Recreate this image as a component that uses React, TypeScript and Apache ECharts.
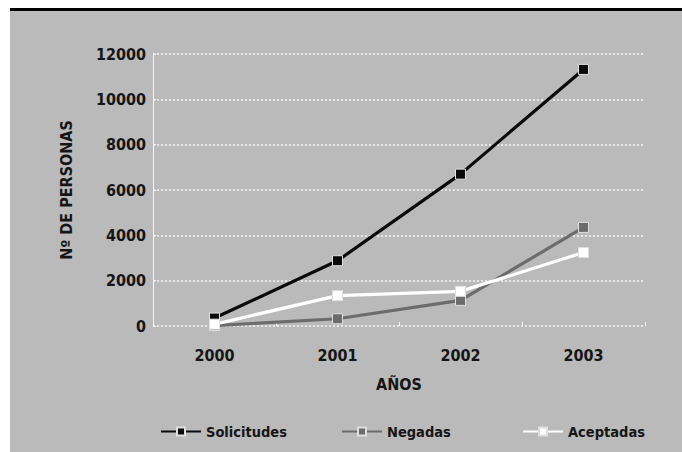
import React, { useEffect, useRef } from "react";
import * as echarts from "echarts";

const years = ["2000", "2001", "2002", "2003"];
const solicitudes = [350, 2880, 6700, 11320];
const negadas = [20, 320, 1130, 4350];
const aceptadas = [80, 1340, 1530, 3240];
const yTicks = { min: 0, max: 12000, interval: 2000 };

const FONT = "'Liberation Sans Narrow', 'DejaVu Sans Condensed', 'Arial Narrow', sans-serif";
const TXT = "#151515";

export default function App() {
  const ref = useRef<HTMLDivElement>(null);
  useEffect(() => {
    if (!ref.current) return;
    const chart = echarts.init(ref.current, undefined, { renderer: "svg" });
    const mk = (name: string, data: number[], color: string) => ({
      name,
      type: "line",
      data,
      symbol: "rect",
      symbolSize: 10,
      lineStyle: { color, width: 3.2 },
      itemStyle: { color, borderColor: "#e0e0e0", borderWidth: 1 },
      z: 3,
    });
    const legendBase = {
      top: 419,
      itemWidth: 40,
      itemHeight: 10,
      itemGap: 10,
      textStyle: { fontFamily: FONT, fontWeight: "bold", fontSize: 14.5, color: TXT },
    };
    chart.setOption({
      animation: false,
      graphic: [
        { type: "rect", shape: { x: 10, y: 11, width: 672, height: 441 }, style: { fill: "#bababa" }, z: -10 },
        { type: "rect", shape: { x: 10, y: 8, width: 672, height: 3 }, style: { fill: "#000" }, z: -10 },
      ],
      grid: { left: 153, right: 37, top: 54, bottom: 126 },
      xAxis: {
        type: "category",
        data: years,
        boundaryGap: true,
        axisLine: { show: false },
        axisTick: { show: true, inside: true, length: 4, lineStyle: { color: "#f4f4f4", width: 1 } },
        axisLabel: { margin: 21, fontFamily: FONT, fontWeight: "bold", fontSize: 16, color: TXT },
        name: "AÑOS",
        nameLocation: "middle",
        nameGap: 50,
        nameTextStyle: { fontFamily: FONT, fontWeight: "bold", fontSize: 16, color: TXT },
      },
      yAxis: {
        type: "value",
        min: yTicks.min,
        max: yTicks.max,
        interval: yTicks.interval,
        axisLine: { show: true, lineStyle: { color: "#f4f4f4", width: 1 } },
        axisTick: { show: true, inside: true, length: 3, lineStyle: { color: "#f4f4f4" } },
        splitLine: { show: true, lineStyle: { color: "#f8f8f8", width: 1.5, type: [2, 2] } },
        axisLabel: {
          margin: 7,
          fontFamily: FONT,
          fontWeight: "bold",
          fontSize: 16,
          color: TXT,
          formatter: (v: number) => String(v),
        },
        name: "Nº DE PERSONAS",
        nameLocation: "middle",
        nameGap: 79,
        nameRotate: 90,
        nameTextStyle: { fontFamily: FONT, fontWeight: "bold", fontSize: 16, color: TXT },
      },
      legend: [
        { ...legendBase, left: 155, data: ["Solicitudes"] },
        { ...legendBase, left: 336, data: ["Negadas"] },
        { ...legendBase, left: 517, data: ["Aceptadas"] },
      ],
      series: [
        mk("Solicitudes", solicitudes, "#0a0a0a"),
        mk("Negadas", negadas, "#6c6c6c"),
        mk("Aceptadas", aceptadas, "#ffffff"),
      ],
    });
    return () => chart.dispose();
  }, []);
  return (
    <div
      ref={ref}
      style={{ position: "fixed", left: 0, top: 0, width: 682, height: 452, background: "#ffffff" }}
    />
  );
}
